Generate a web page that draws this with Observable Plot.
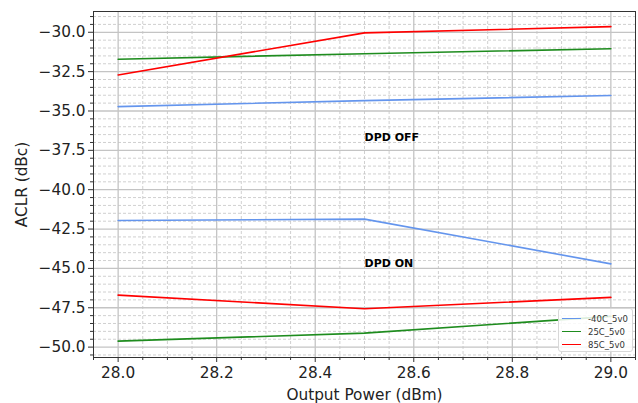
<!DOCTYPE html>
<html>
<head>
<meta charset="utf-8">
<script src="https://cdn.jsdelivr.net/npm/d3@7"></script>
<script src="https://cdn.jsdelivr.net/npm/@observablehq/plot@0.6"></script>
<style>
  html, body { margin: 0; padding: 0; background: #fff; }
  #chart { position: relative; width: 638px; height: 403px; font-family: "DejaVu Sans", sans-serif; }
  #legend {
    position: absolute; left: 558px; top: 308px; width: 75px; height: 44px;
    background: rgba(255,255,255,0.85); border: 1px solid #d8d8d8; border-radius: 3px;
    font-size: 8.5px; color: #333; box-sizing: border-box; padding: 3px 0 0 3px;
  }
  #legend .row { display: flex; align-items: center; height: 13px; }
  #legend .sw { width: 19px; height: 0; border-top: 1.6px solid; margin-right: 7px; }
</style>
</head>
<body>
<div id="chart"></div>
<script>
// Output power sweep (dBm)
const power = [28.0, 28.5, 29.0];

// ACLR (dBc) with DPD disabled
const offM40 = [-34.72, -34.34, -34.02];
const off25 = [-31.71, -31.36, -31.05];
const off85 = [-32.71, -30.04, -29.64];

// ACLR (dBc) with DPD enabled
const onM40 = [-41.96, -41.87, -44.71];
const on25 = [-49.62, -49.11, -48.05];
const on85 = [-46.70, -47.56, -46.84];

const seriesNames = ["-40C_5v0", "25C_5v0", "85C_5v0"];
const seriesColors = ["#6495ed", "#1e8c1e", "#ff0000"];

// Annotations
const notes = [
  {x: 28.5, y: -36.7, label: "DPD OFF"},
  {x: 28.5, y: -44.7, label: "DPD ON"}
];

// Axis ticks
const xMajor = [28.0, 28.2, 28.4, 28.6, 28.8, 29.0];
const yMajor = [-50, -47.5, -45, -42.5, -40, -37.5, -35, -32.5, -30];

const xMinor = d3.range(27.95, 29.051, 0.05).map(v => +v.toFixed(2)).filter(v => !xMajor.some(m => Math.abs(m - v) < 1e-6));
const yMinor = d3.range(-50.5, -28.6, 0.5).map(v => +v.toFixed(1)).filter(v => !yMajor.some(m => Math.abs(m - v) < 1e-6));

function rows(values, series) {
  return power.map((x, i) => ({x, y: values[i], series}));
}
const lines = [
  [offM40, 0], [off25, 1], [off85, 2],
  [onM40, 0], [on25, 1], [on85, 2]
].map(([v, s]) => ({data: rows(v, seriesNames[s]), color: seriesColors[s]}));

const fmt = d => d.toFixed(1).replace("-", "\u2212");

const chart = Plot.plot({
  width: 638,
  height: 403,
  marginLeft: 93,
  marginRight: 3,
  marginTop: 11,
  marginBottom: 46,
  style: {fontFamily: "DejaVu Sans, sans-serif", fontSize: "15.3px", color: "#222", background: "#fff"},
  x: {domain: [27.95, 29.05]},
  y: {domain: [-50.66, -28.68]},
  marks: [
    // minor grid
    Plot.ruleX(xMinor, {stroke: "#c4c4c4", strokeWidth: 0.8, strokeDasharray: "3,2"}),
    Plot.ruleY(yMinor, {stroke: "#c4c4c4", strokeWidth: 0.8, strokeDasharray: "3,2"}),
    // major grid
    Plot.ruleX(xMajor, {stroke: "#c4c4c4", strokeWidth: 1.3}),
    Plot.ruleY(yMajor, {stroke: "#c4c4c4", strokeWidth: 1.3}),
    // data
    ...lines.map(l => Plot.line(l.data, {x: "x", y: "y", stroke: l.color, strokeWidth: 1.6})),
    Plot.text(notes, {x: "x", y: "y", text: "label", textAnchor: "start", fontWeight: "bold", fontSize: 11, fill: "#000"}),
    // axes
    Plot.axisX(xMinor, {tickSize: 3, tickFormat: () => "", stroke: "#333", label: null}),
    Plot.axisY(yMinor, {tickSize: 3, tickFormat: () => "", stroke: "#333", label: null}),
    Plot.axisX(xMajor, {tickSize: 5, tickPadding: 5, tickFormat: fmt, stroke: "#333", fill: "#222", fontSize: 15.3,
      label: "Output Power (dBm)", labelAnchor: "center", labelArrow: "none", labelOffset: 42}),
    Plot.axisY(yMajor, {tickSize: 5, tickPadding: 3, tickFormat: fmt, stroke: "#333", fill: "#222", fontSize: 15.3,
      label: "ACLR (dBc)", labelAnchor: "center", labelArrow: "none", labelOffset: 77}),
    Plot.frame({stroke: "#333", strokeWidth: 1})
  ]
});

const root = document.getElementById("chart");
root.appendChild(chart);

const legend = document.createElement("div");
legend.id = "legend";
seriesNames.forEach((name, i) => {
  const row = document.createElement("div");
  row.className = "row";
  const sw = document.createElement("span");
  sw.className = "sw";
  sw.style.borderTopColor = seriesColors[i];
  const t = document.createElement("span");
  t.textContent = name;
  row.appendChild(sw);
  row.appendChild(t);
  legend.appendChild(row);
});
root.appendChild(legend);
</script>
</body>
</html>
